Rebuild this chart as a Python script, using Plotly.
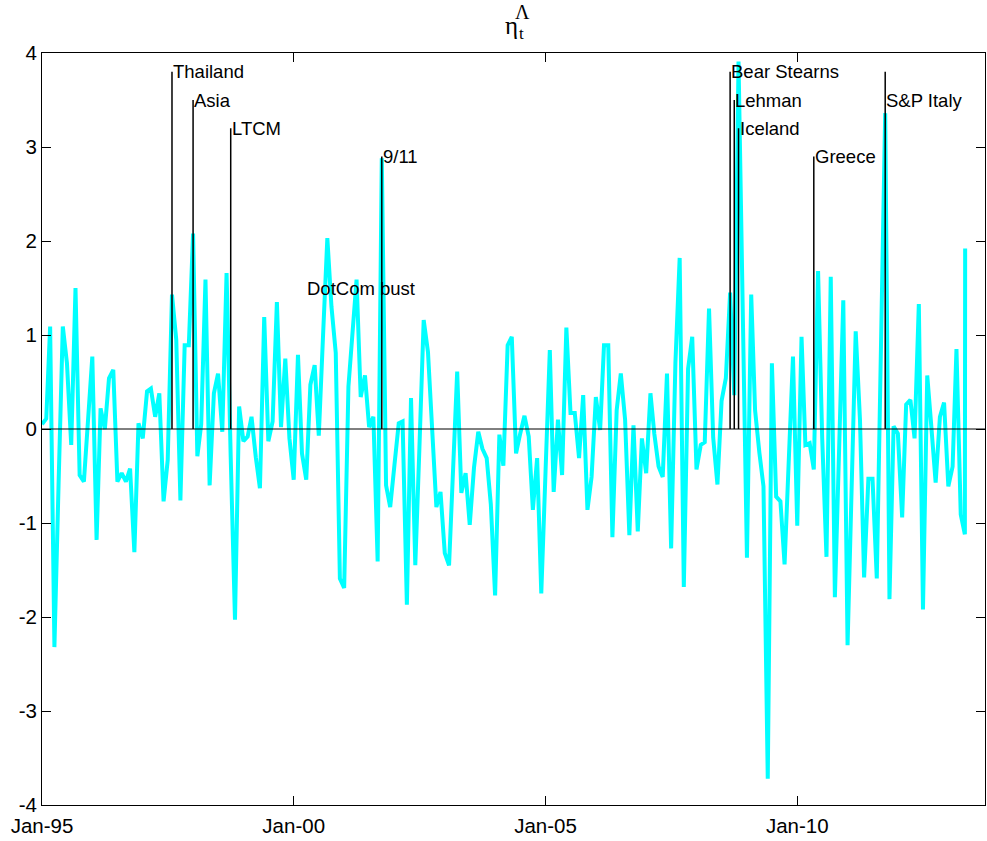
import pandas as pd
import plotly.graph_objects as go

# Monthly series, Jan 1995 onwards (one value per month, last value repeated day later)
eta_values = [
    0.05, 0.11, 1.09, -2.32, -0.60, 1.09, 0.70, -0.17, 1.50, -0.49,
    -0.56, 0.10, 0.77, -1.18, 0.22, 0.00, 0.54, 0.63, -0.56, -0.47,
    -0.56, -0.42, -1.31, 0.06, -0.10, 0.40, 0.43, 0.13, 0.38, -0.77,
    -0.33, 1.43, 0.95, -0.76, 0.89, 0.89, 2.08, -0.29, 0.05, 1.59,
    -0.60, 0.38, 0.59, -0.03, 1.66, -0.30, -2.03, 0.24, -0.13, -0.08,
    0.13, -0.30, -0.63, 1.19, -0.13, 0.08, 1.35, 0.02, 0.75, -0.10,
    -0.54, 0.79, -0.26, -0.54, 0.47, 0.68, -0.07, 1.00, 2.03, 1.30,
    0.81, -1.59, -1.69, 0.45, 1.05, 1.59, 0.34, 0.57, 0.02, 0.13,
    -1.41, 2.88, -0.60, -0.83, -0.38, 0.06, 0.08, -1.87, 0.33, -1.45,
    -0.20, 1.16, 0.82, -0.05, -0.83, -0.67, -1.32, -1.45, -0.40, 0.61,
    -0.68, -0.47, -1.02, -0.41, -0.03, -0.21, -0.31, -0.80, -1.77, -0.06,
    -0.39, 0.89, 0.98, -0.26, -0.05, 0.14, -0.08, -0.86, -0.31, -1.75,
    -0.45, 0.84, -0.67, 0.10, -0.49, 1.08, 0.17, 0.17, -0.31, 0.36,
    -0.86, -0.51, 0.34, -0.01, 0.89, 0.89, -1.15, 0.20, 0.59, 0.10,
    -1.13, 0.04, -1.09, -0.10, -0.47, 0.38, -0.05, -0.40, -0.51, 0.59,
    -1.27, 0.70, 1.82, -1.68, 0.64, 0.98, -0.43, -0.17, -0.14, 1.28,
    -0.09, -0.59, 0.30, 0.54, 1.45, 0.36, 3.91, 1.00, -1.37, 1.43,
    0.20, -0.25, -0.61, -3.72, 0.70, -0.72, -0.77, -1.44, -0.35, 0.77,
    -1.03, 0.98, -0.17, -0.15, -0.43, 1.68, -0.10, -1.36, 1.62, -1.79,
    -0.20, 1.37, -2.30, -0.60, 1.04, 0.10, -1.58, -0.53, -0.53, -1.59,
    0.90, 3.36, -1.81, 0.03, -0.05, -0.94, 0.26, 0.31, -0.10, 1.33,
    -1.92, 0.57, 0.00, -0.57, 0.13, 0.28, -0.61, -0.40, 0.85, -0.91,
    -1.12, 1.92,
]
eta_dates = list(pd.date_range("1995-01-01", periods=221, freq="MS").strftime("%Y-%m-%d"))
eta_dates.append("2013-05-03")

# Crisis events: label, date, height of the marker line, height of the label
event_names = ["Thailand", "Asia", "LTCM", "9/11", "Bear Stearns", "Lehman",
               "Iceland", "Greece", "S&P Italy"]
event_dates = ["1997-08-01", "1998-01-01", "1998-10-01", "2001-10-01", "2008-09-01",
               "2008-10-01", "2008-11-01", "2010-05-01", "2011-10-01"]
event_line_top = [3.8, 3.5, 3.2, 2.9, 3.8, 3.5, 3.2, 2.9, 3.8]
event_label_y = [3.8, 3.5, 3.2, 2.9, 3.8, 3.5, 3.2, 2.9, 3.5]

note_names = ["DotCom bust"]
note_dates = ["2000-04-01"]
note_y = [1.5]

x_tick_dates = ["1995-01-01", "2000-01-01", "2005-01-01", "2010-01-01"]
x_tick_text = ["Jan-95", "Jan-00", "Jan-05", "Jan-10"]
y_tick_vals = [-4, -3, -2, -1, 0, 1, 2, 3, 4]
y_tick_text = ["-4", "-3", "-2", "-1", "0", "1", "2", "3", "4"]
x_range = ["1995-01-01", "2013-09-24"]

fig = go.Figure()
fig.add_trace(go.Scatter(
    x=eta_dates, y=eta_values, mode="lines",
    line=dict(color="#00FFFF", width=4),
    showlegend=False, hoverinfo="skip",
))

shapes = [dict(type="line", xref="paper", yref="y", x0=0, x1=1, y0=0, y1=0,
               line=dict(color="black", width=1), layer="above")]
for d, top in zip(event_dates, event_line_top):
    shapes.append(dict(type="line", xref="x", yref="y", x0=d, x1=d, y0=0, y1=top,
                       line=dict(color="black", width=1.5), layer="above"))

label_font = dict(family="Liberation Sans, Arial, sans-serif", size=18.5, color="black")
annotations = []
for name, d, yv in zip(event_names + note_names, event_dates + note_dates,
                       event_label_y + note_y):
    annotations.append(dict(x=d, y=yv, xref="x", yref="y", text=name, showarrow=False,
                            xanchor="left", yanchor="middle", borderpad=0,
                            font=label_font))

# Title: eta with stacked subscript t and superscript Lambda
serif = "Liberation Serif, Times New Roman, serif"
annotations += [
    dict(x=0.4975, y=1.0372, xref="paper", yref="paper", text="η", showarrow=False,
         xanchor="center", yanchor="middle", borderpad=0,
         font=dict(family=serif, size=25, color="black")),
    dict(x=0.5085, y=1.0259, xref="paper", yref="paper", text="t", showarrow=False,
         xanchor="center", yanchor="middle", borderpad=0,
         font=dict(family=serif, size=17, color="black")),
    dict(x=0.5100, y=1.0545, xref="paper", yref="paper", text="Λ", showarrow=False,
         xanchor="center", yanchor="middle", borderpad=0,
         font=dict(family=serif, size=20, color="black")),
]

tick_font = dict(family="Liberation Sans, Arial, sans-serif", size=20.5, color="black")
fig.update_layout(
    width=987, height=841,
    margin=dict(l=42, r=1.5, t=53, b=36, pad=0),
    paper_bgcolor="white", plot_bgcolor="white",
    shapes=shapes, annotations=annotations,
    xaxis=dict(type="date", range=x_range, tickvals=x_tick_dates, ticktext=x_tick_text,
               ticks="inside", ticklen=9, tickwidth=1, tickcolor="black",
               ticklabelstandoff=2,
               showline=True, linecolor="black", linewidth=1, mirror="ticks",
               showgrid=False, zeroline=False, tickfont=tick_font),
    yaxis=dict(range=[-4, 4], tickvals=y_tick_vals, ticktext=y_tick_text,
               ticks="inside", ticklen=9, tickwidth=1, tickcolor="black",
               showline=True, linecolor="black", linewidth=1, mirror="ticks",
               showgrid=False, zeroline=False, tickfont=tick_font),
)

fig.write_html("out.html")
